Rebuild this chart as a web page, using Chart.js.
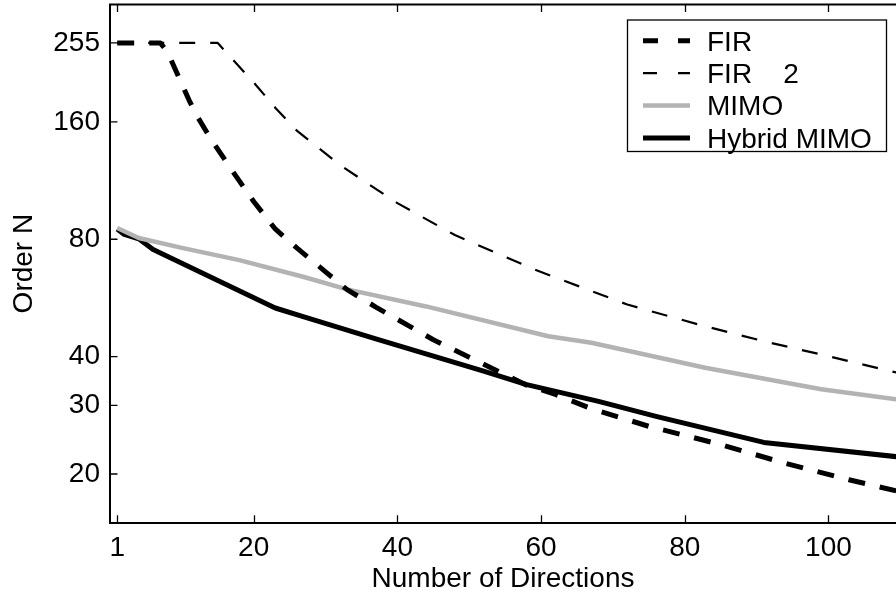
<!DOCTYPE html>
<html>
<head>
<meta charset="utf-8">
<script src="https://cdn.jsdelivr.net/npm/chart.js@4"></script>
<style>
  html, body { margin: 0; padding: 0; background: #fff; }
  #c { display: block; }
</style>
</head>
<body>
<canvas id="c" width="896" height="596"></canvas>
<script>
// ---- data ----
const xTicks = [1, 20, 40, 60, 80, 100];
const yTicks = [20, 30, 40, 80, 160, 255];

const firX  = [1, 7, 8, 9, 11, 12, 14, 17, 20, 23, 26, 30, 33, 37, 45, 54, 58, 62, 67, 75, 85, 94, 103, 110];
const firY  = [255, 255, 242, 220, 182, 167, 145, 120, 100, 85, 76, 66, 59.4, 53.6, 44.2, 36.7, 33.8, 32, 29.4, 26.5, 23.8, 21.3, 19.3, 18];

const fir2X = [1, 15, 17, 20, 23, 26, 32, 40, 48, 59, 72, 82, 91, 100, 110];
const fir2Y = [255, 255, 232, 202, 174, 152, 124, 99, 82, 67, 54.4, 48.3, 43.8, 40.1, 36.2];

const mimoX = [1, 4, 10, 18, 27, 33, 44, 61, 67, 83, 99, 110];
const mimoY = [85.5, 80.6, 76, 70.7, 64, 59.5, 53.8, 45.1, 43.4, 37.4, 33, 31];

const hybX  = [1, 2, 4, 6, 23, 27, 37, 52, 58, 68, 76, 91, 110];
const hybY  = [85, 82.3, 80.2, 75.3, 53.3, 50.6, 44.4, 36.7, 33.9, 30.7, 28.1, 24.1, 22.1];

const seriesLabels = ['FIR', 'FIR    2', 'MIMO', 'Hybrid MIMO'];

// ---- build ----
const FONT = "'Liberation Sans', Arial, Helvetica, sans-serif";
const FS = 28;
const pts = (xs, ys) => xs.map((x, i) => ({ x: x, y: ys[i] }));

const inwardTicks = {
  id: 'inwardTicks',
  afterDraw(chart) {
    const { ctx, chartArea: a, scales } = chart;
    const x = scales.x, y = scales.y;
    ctx.save();
    ctx.strokeStyle = '#000';
    ctx.lineWidth = 2;
    ctx.beginPath();
    ctx.moveTo(a.left - 1, a.top);
    ctx.lineTo(a.right + 2, a.top);
    ctx.stroke();
    ctx.lineWidth = 1.3;
    ctx.beginPath();
    x.ticks.forEach(t => {
      const px = Math.round(x.getPixelForValue(t.value)) + 0.5;
      ctx.moveTo(px, a.bottom); ctx.lineTo(px, a.bottom - 7.5);
      ctx.moveTo(px, a.top); ctx.lineTo(px, a.top + 7.5);
    });
    y.ticks.forEach(t => {
      const py = y.getPixelForValue(t.value);
      ctx.moveTo(a.left, py); ctx.lineTo(a.left + 7.5, py);
    });
    ctx.stroke();
    ctx.restore();
  }
};

const boxLegend = {
  id: 'boxLegend',
  afterDraw(chart) {
    const ctx = chart.ctx;
    const bx = 627.5, by = 20, bw = 259, bh = 131.5;
    ctx.save();
    ctx.fillStyle = '#fff';
    ctx.fillRect(bx, by, bw, bh);
    ctx.strokeStyle = '#000';
    ctx.lineWidth = 1.3;
    ctx.strokeRect(bx, by, bw, bh);
    const rows = [40.7, 73.2, 105.6, 138];
    chart.data.datasets.forEach((ds, i) => {
      const yc = rows[i];
      ctx.beginPath();
      ctx.setLineDash(ds.legendDash || []);
      ctx.strokeStyle = ds.borderColor;
      ctx.lineWidth = ds.borderWidth;
      ctx.moveTo(643, yc);
      ctx.lineTo(690, yc);
      ctx.stroke();
      ctx.setLineDash([]);
      ctx.fillStyle = '#000';
      ctx.font = FS + 'px ' + FONT;
      ctx.textAlign = 'left';
      ctx.textBaseline = 'alphabetic';
      ctx.fillText(ds.label, 707, yc + 9.8);
    });
    ctx.restore();
  }
};

new Chart(document.getElementById('c'), {
  type: 'line',
  data: {
    datasets: [
      { label: seriesLabels[0], data: pts(firX, firY), borderColor: '#000', borderWidth: 5,
        borderDash: [17, 15], legendDash: [15, 20] },
      { label: seriesLabels[1], data: pts(fir2X, fir2Y), borderColor: '#000', borderWidth: 2.2,
        borderDash: [16, 15], legendDash: [14, 21] },
      { label: seriesLabels[2], data: pts(mimoX, mimoY), borderColor: '#b3b3b3', borderWidth: 4.5 },
      { label: seriesLabels[3], data: pts(hybX, hybY), borderColor: '#000', borderWidth: 5 }
    ].map(d => Object.assign({ pointRadius: 0, fill: false, tension: 0, borderJoinStyle: 'round' }, d))
  },
  options: {
    responsive: false,
    animation: false,
    events: [],
    layout: { padding: { top: 4.5, right: 0, left: 0, bottom: 0 } },
    plugins: { legend: { display: false }, tooltip: { enabled: false }, title: { display: false } },
    scales: {
      x: {
        type: 'linear', min: 0, max: 109.4,
        afterBuildTicks: s => { s.ticks = xTicks.map(v => ({ value: v })); },
        afterFit: s => { s.height = 73.3; s.paddingLeft = 0; s.paddingRight = 0; },
        grid: { display: false, drawTicks: false },
        border: { display: true, color: '#000', width: 2 },
        ticks: { color: '#000', font: { family: FONT, size: FS }, padding: 9, maxRotation: 0, autoSkip: false,
                 callback: v => String(v) },
        title: { display: true, text: 'Number of Directions', color: '#000',
                 font: { family: FONT, size: FS }, padding: { top: 0, bottom: 0 } }
      },
      y: {
        type: 'logarithmic', min: 15, max: 320,
        afterBuildTicks: s => { s.ticks = yTicks.map(v => ({ value: v })); },
        afterFit: s => { s.width = 110; s.paddingTop = 0; s.paddingBottom = 0; },
        grid: { display: false, drawTicks: false },
        border: { display: true, color: '#000', width: 2 },
        ticks: { color: '#000', font: { family: FONT, size: FS }, padding: 10, autoSkip: false,
                 callback: v => String(v) },
        title: { display: true, text: 'Order N', color: '#000',
                 font: { family: FONT, size: FS }, padding: { top: 7, bottom: 0 } }
      }
    }
  },
  plugins: [inwardTicks, boxLegend]
});
</script>
</body>
</html>
